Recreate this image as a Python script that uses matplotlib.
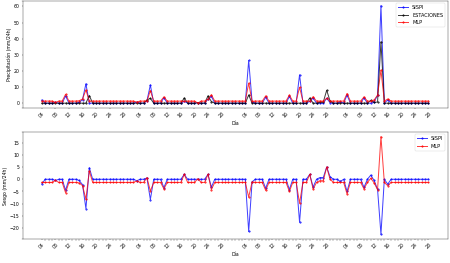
import matplotlib
matplotlib.use("Agg")
import matplotlib.pyplot as plt
import matplotlib.dates as mdates
import numpy as np
import pandas as pd

dates = pd.date_range("2020-02-04", "2020-05-28", freq="D")

estaciones = [
    0, 0, 0, 0, 0, 0, 0, 0, 0, 0,
    0, 0, 0, 0, 4.7, 0, 0, 0, 0, 0,
    0, 0, 0, 0, 0, 0, 0, 0, 0, 0,
    0, 2.0, 3.0, 0, 0, 0, 0, 0, 0, 0,
    0, 0, 3.2, 0, 0, 0, 0.3, 0, 0, 4.5,
    1.0, 0, 0, 0, 0, 0, 0, 0, 0, 0,
    0, 5.1, 0, 0, 0, 0, 0, 0, 0, 0,
    0, 0, 0, 0, 0, 0, 0, 0, 0, 3.2,
    0, 0, 0.7, 0.7, 8.0, 1.3, 0, 0, 0, 0,
    0, 0, 0, 0, 0, 0, 0, 1.7, 0.5, 0.7,
    38.0, 0, 0, 0, 0, 0, 0, 0, 0, 0,
    0, 0, 0, 0, 0,
]

sispi = [
    1.9, 0, 0, 0, 0.5, 0, 0, 4.5, 0, 0,
    0, 0.5, 2.2, 12.0, 0, 0, 0, 0, 0, 0,
    0, 0, 0, 0, 0, 0, 0, 0, 0.6, 0,
    0, 1.5, 11.3, 0, 0, 0, 3.4, 0, 0, 0,
    0, 0, 1.2, 0, 0, 0, 0.3, 0, 0, 2.5,
    4.2, 0, 0, 0, 0, 0, 0, 0, 0, 0,
    0, 26.5, 1.0, 0, 0, 0, 3.7, 0, 0, 0,
    0, 0, 0, 4.2, 0, 0, 17.6, 0, 0, 1.2,
    3.2, 0, 0, 0, 3.0, 0.3, 0, 0, 0.9, 0,
    5.0, 0, 0, 0, 0, 3.3, 0, 0, 1.0, 4.8,
    60.5, 0, 2.0, 0, 0, 0, 0, 0, 0, 0,
    0, 0, 0, 0, 0,
]

mlp = [
    1.3, 1.3, 1.3, 1.3, 0.5, 1.3, 1.3, 5.5, 1.3, 1.3,
    1.3, 1.5, 2.6, 8.2, 1.3, 1.3, 1.3, 1.3, 1.3, 1.3,
    1.3, 1.3, 1.3, 1.3, 1.3, 1.3, 1.3, 1.3, 0.7, 1.3,
    1.3, 1.3, 7.8, 1.3, 1.3, 1.3, 3.9, 1.3, 1.3, 1.3,
    1.3, 1.3, 1.2, 1.3, 1.3, 1.3, 0.1, 1.3, 1.3, 2.5,
    5.2, 1.3, 1.3, 1.3, 1.3, 1.3, 1.3, 1.3, 1.3, 1.3,
    1.3, 12.4, 1.1, 1.3, 1.3, 1.3, 4.5, 1.3, 1.3, 1.3,
    1.3, 1.3, 1.3, 5.0, 1.3, 1.3, 9.8, 1.3, 1.3, 1.2,
    4.0, 1.3, 1.3, 1.3, 3.0, 1.3, 1.3, 1.3, 1.3, 1.3,
    6.0, 1.3, 1.3, 1.3, 1.3, 3.9, 1.3, 1.3, 2.0, 5.0,
    20.5, 1.3, 2.6, 1.3, 1.3, 1.3, 1.3, 1.3, 1.3, 1.3,
    1.3, 1.3, 1.3, 1.3, 1.3,
]

tick_days = [4, 8, 12, 16, 20, 24, 28]

est = np.array(estaciones)
sesgo_sispi = est - np.array(sispi)
sesgo_mlp = est - np.array(mlp)

plt.rcParams["font.size"] = 11

fig, (ax1, ax2) = plt.subplots(2, 1, figsize=(15, 8.77), dpi=30)
fig.subplots_adjust(left=0.050, right=0.995, top=0.997, bottom=0.091, hspace=0.22)

kw = dict(marker=".", markersize=8, linewidth=2.4, alpha=0.75)
ax1.plot(dates, sispi, color="blue", label="SISPI", **kw)
ax1.plot(dates, estaciones, color="black", label="ESTACIONES", **kw)
ax1.plot(dates, mlp, color="red", label="MLP", **kw)
ax1.set_ylabel("Precipitación (mm/24h)")
ax1.set_xlabel("Día")
ax1.legend(loc="upper right", fontsize=12)

ax2.plot(dates, sesgo_sispi, color="blue", label="SISPI", **kw)
ax2.plot(dates, sesgo_mlp, color="red", label="MLP", **kw)
ax2.set_ylabel("Sesgo (mm/24h)")
ax2.set_xlabel("Día")
ax2.legend(loc="upper right", fontsize=12)
ax2.set_xticks(dates, minor=True)
ax2.tick_params(axis="x", which="minor", length=5)

for ax in (ax1, ax2):
    ax.xaxis.set_major_locator(mdates.DayLocator(bymonthday=tick_days))
    ax.xaxis.set_major_formatter(mdates.DateFormatter("%d"))
    for lab in ax.get_xticklabels():
        lab.set_rotation(45)

fig.savefig("out.png", dpi=30)
